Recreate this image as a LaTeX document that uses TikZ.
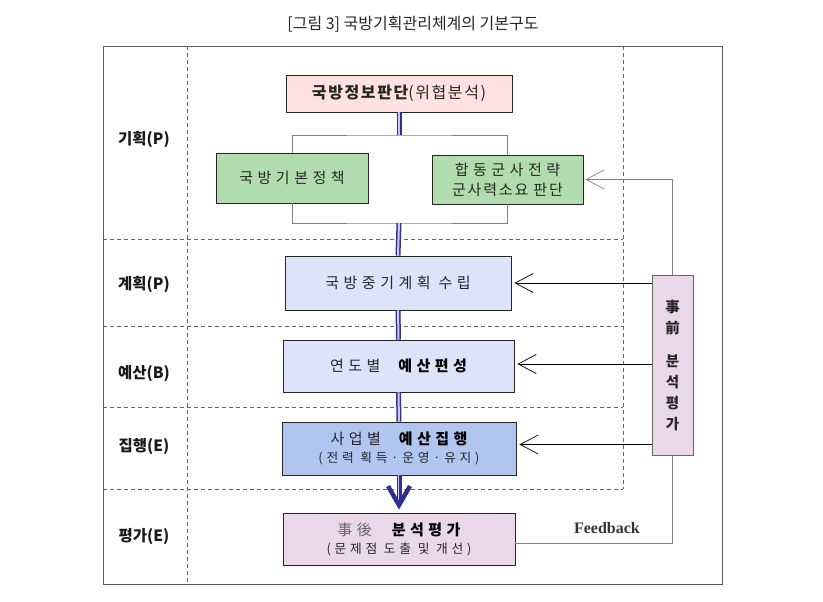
\documentclass[tikz,border=0pt]{standalone}
\usepackage{fontspec}
\setmainfont{Noto Sans CJK KR}
\newfontfamily\krwide{Noto Sans CJK KR}[LetterSpace=30]
\newfontfamily\krtight{Noto Sans CJK KR}[LetterSpace=10]
\newfontfamily\feedfont{Liberation Serif}
\usetikzlibrary{arrows.meta}

\definecolor{intelpink}{HTML}{FFE1E1}
\definecolor{policygreen}{HTML}{B1DDAE}
\definecolor{planblue}{HTML}{DDE3F8}
\definecolor{execblue}{HTML}{B1C5F1}
\definecolor{evalpink}{HTML}{EAD8EA}
\definecolor{flownavy}{HTML}{2E3192}
\definecolor{flowlight}{HTML}{C8CCF5}
\definecolor{framegray}{HTML}{5A5A5A}
\definecolor{linegray}{HTML}{808080}

\tikzset{
  stagebox/.style={draw=black!85, line width=0.9pt, inner sep=0pt, align=center,
    text=black!85, font=\krwide\fontsize{15}{21}\selectfont},
  phase/.style={font=\fontsize{15.5}{17}\selectfont\bfseries, text=black!90},
  flow/.style={draw=flownavy, line width=1.5pt, double=flowlight, double distance=2pt},
  sidearrow/.style={draw=black, line width=0.7pt, shorten >=3pt,
    -{Straight Barb[length=18pt,width=19pt,line width=0.7pt]}},
  grayline/.style={draw=linegray, line width=0.8pt},
  sep/.style={draw=black!60, line width=0.8pt, dash pattern=on 4pt off 3pt}
}

\begin{document}
\begin{tikzpicture}[x=1pt,y=-1pt]
\useasboundingbox (0,0) rectangle (823,602);

% title and frame
\node[font=\fontsize{16}{18}\selectfont, text=black!85] (title) at (413,24) {[그림 3] 국방기획관리체계의 기본구도};
\draw[framegray, line width=0.9pt] (103,46) rectangle (722,584);

% the dashed separators
\draw[sep] (187,46) -- (187,584);
\draw[sep] (623,46) -- (623,489);
\foreach \y in {239,326,407,489}
  \draw[sep] (103,\y) -- (623,\y);

% phase names
\foreach \y/\t [count=\i] in {140/기획(P),284/계획(P),374/예산(B),447/집행(E),537/평가(E)}
  \node[phase] (phase\i) at (144,\y) {\t};

% stages
\node[stagebox, fill=intelpink, minimum width=226pt, minimum height=37pt,
  font=\krtight\fontsize{16}{18}\selectfont] (intel) at (399,93.5)
  {{\bfseries 국방정보판단}(위협분석)};
\node[stagebox, fill=policygreen, minimum width=152pt, minimum height=50pt] (basic) at (292,178) {국방기본정책};
\node[stagebox, fill=policygreen, minimum width=151pt, minimum height=49pt] (joint) at (507.5,179.5)
  {합동군사전략\\[-1pt]{\addfontfeature{LetterSpace=12}군사력소요 판단}};
\node[stagebox, fill=planblue, minimum width=226pt, minimum height=54pt] (plan) at (398,283) {국방중기계획 수립};
\node[stagebox, fill=planblue, minimum width=231pt, minimum height=52pt] (budget) at (398.5,366)
  {연도별\hspace{10pt} {\bfseries\color{black}예산편성}};
\node[stagebox, fill=execblue, minimum width=234pt, minimum height=53pt] (exec) at (399,448.5)
  {사업별\hspace{10pt} {\bfseries\color{black}예산집행}\\[-3pt]
   {\fontsize{12.7}{16}\selectfont (전력 획득·운영·유지)}};
\node[stagebox, fill=evalpink, minimum width=232pt, minimum height=52pt] (post) at (399,539)
  {{\color{black!60}事後}\hspace{12pt} {\bfseries\color{black}분석평가}\\[-3pt]
   {\fontsize{12.7}{16}\selectfont (문제점 도출 및 개선)}};
\node[stagebox, fill=evalpink, draw=black!60, minimum width=41pt, minimum height=180pt,
  font=\fontsize{14.5}{21}\selectfont\bfseries] (pre) at (672.5,365)
  {事\\前\\[12pt]분\\석\\평\\가};

% the bracket round the policy boxes
\coordinate (brtop) at (399,135);
\coordinate (brbot) at (399,223);
\draw[grayline] (basic.north) |- (brtop) -| (joint.north);
\draw[grayline] (basic.south) |- (brbot) -| (joint.south);

% main flow
\draw[flow] (intel.south) -- (brtop);
\draw[flow] (brbot) -- (plan.north);
\draw[flow] (plan) -- (budget);
\draw[flow] (budget) -- (exec);
\draw[flow, shorten >=12pt] (exec.south) -- (post.north);
\draw[flownavy, line width=0.3pt, shorten >=3pt,
  -{Straight Barb[length=19pt,width=22pt,line width=4.5pt]}] (exec.south) -- (post.north);

% prior evaluation
\draw[grayline, shorten >=2pt, -{Straight Barb[length=18pt,width=19pt,line width=0.7pt]}]
  (pre.north) |- (joint.east);
\draw[sidearrow] (pre.west |- plan.east) -- (plan.east);
\draw[sidearrow] ([yshift=2pt]pre.west |- budget.east) -- ([yshift=2pt]budget.east);
\draw[sidearrow] ([yshift=4pt]pre.west |- exec.east) -- ([yshift=4pt]exec.east);

% feedback
\draw[grayline] ([yshift=-4pt]post.east) -| (pre.south);
\node[font=\feedfont\fontsize{16}{18}\selectfont\bfseries, text=black!80] (feed) at (607,528) {Feedback};
\end{tikzpicture}
\end{document}
